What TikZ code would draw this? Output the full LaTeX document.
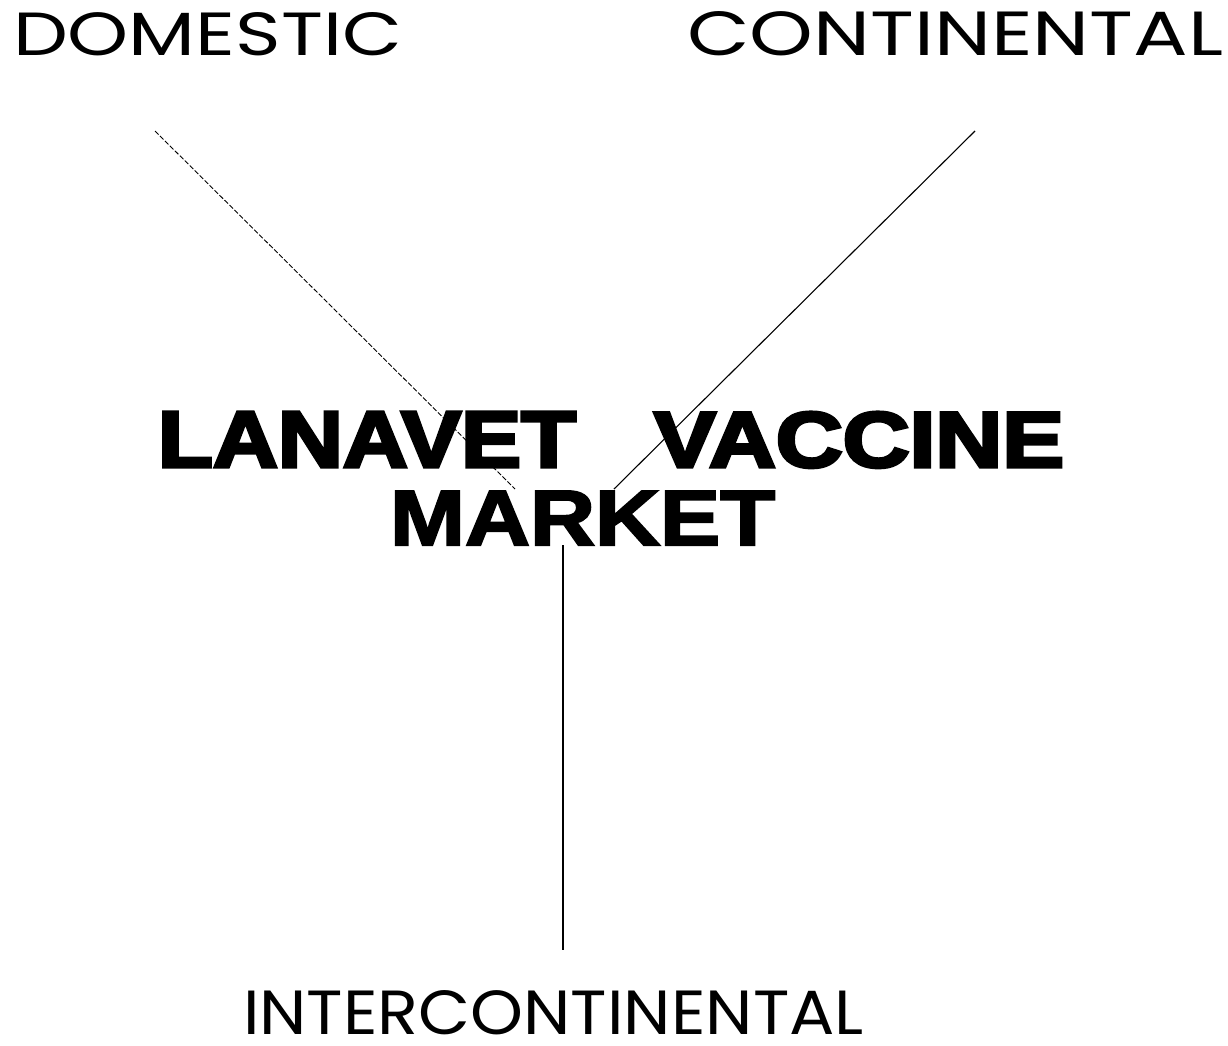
\documentclass[tikz,border=0pt]{standalone}
\usepackage{fontspec}
\setmainfont{Poppins}
\newfontface\heavy{Liberation Sans Bold}[FakeBold=4]
\newfontface\heavym{Liberation Sans Bold}[FakeBold=2.5]
\begin{document}
\begin{tikzpicture}[x=1pt,y=-1pt,
  lbl/.style={inner sep=0pt, outer sep=0pt, anchor=north west},
  conn/.style={line width=1.1pt, black},
  faint/.style={line width=0.9pt, black, dash pattern=on 5pt off 2pt}]
\useasboundingbox (0,0) rectangle (1228,1045);
\fill[white] (0,0) rectangle (1228,1045);
% connector end points
\coordinate (dA) at (155,131);
\coordinate (dB) at (515,489);
\coordinate (cA) at (975,131);
\coordinate (cB) at (614,489);
\coordinate (iA) at (563,545);
\coordinate (iB) at (563,950);
\draw[faint] (dA) -- (dB);
\draw[conn] (cA) -- (cB);
\draw[conn] (iA) -- (iB);
% labels
\node[lbl] (dom) at (13,12) {\resizebox{389pt}{43pt}{DOMESTIC}};
\node[lbl] (con) at (687,11) {\resizebox{536pt}{44pt}{CONTINENTAL}};
\node[lbl] (int) at (243,990) {\resizebox{621pt}{44pt}{INTERCONTINENTAL}};
% title
\node[lbl] (lan) at (158,412) {\resizebox{418pt}{55pt}{\heavy LANAVET}};
\node[lbl] (vac) at (654,412) {\resizebox{410pt}{55pt}{\heavy VACCINE}};
\node[lbl] (mkt) at (390,491) {\resizebox{385pt}{54pt}{\heavym MARKET}};
\end{tikzpicture}
\end{document}
